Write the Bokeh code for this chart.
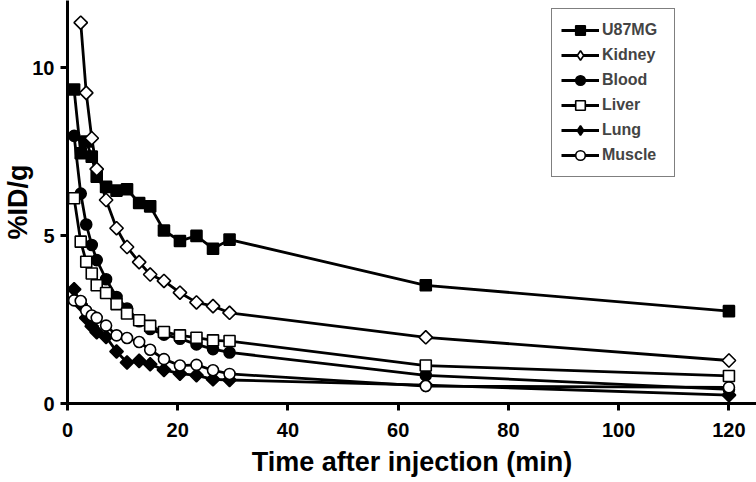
import math
from bokeh.plotting import figure
from bokeh.models import Range1d, Legend, LegendItem, FixedTicker
from bokeh.embed import file_html
from bokeh.resources import INLINE

# ---- data ----
times = [1.2, 2.4, 3.4, 4.4, 5.3, 7.0, 8.9, 10.8, 13.0, 15.0, 17.5, 20.4, 23.4, 26.4, 29.4, 65.0, 120.0]
kidney_times = [2.4, 3.4, 4.4, 5.3, 7.0, 8.9, 10.8, 13.0, 15.0, 17.5, 20.4, 23.4, 26.4, 29.4, 65.0, 120.0]
u87mg = [9.35, 7.45, 7.8, 7.35, 6.75, 6.45, 6.34, 6.38, 5.97, 5.87, 5.15, 4.84, 4.99, 4.61, 4.88, 3.52, 2.75]
kidney = [11.34, 9.25, 7.9, 6.98, 6.06, 5.22, 4.66, 4.21, 3.84, 3.65, 3.3, 3.01, 2.9, 2.7, 1.97, 1.28]
blood = [7.97, 6.25, 5.33, 4.72, 4.27, 3.7, 3.17, 2.83, 2.45, 2.22, 2.05, 1.93, 1.76, 1.62, 1.52, 0.84, 0.42]
liver = [6.11, 4.82, 4.22, 3.87, 3.52, 3.29, 2.96, 2.68, 2.48, 2.31, 2.13, 2.03, 1.96, 1.88, 1.86, 1.13, 0.82]
lung = [3.4, 2.95, 2.55, 2.3, 2.12, 1.98, 1.55, 1.22, 1.27, 1.17, 1.0, 0.89, 0.84, 0.72, 0.7, 0.55, 0.25]
muscle = [3.07, 3.05, 2.76, 2.62, 2.55, 2.32, 2.03, 1.95, 1.83, 1.6, 1.32, 1.13, 1.15, 0.99, 0.88, 0.52, 0.48]

x_ticks = [0, 20, 40, 60, 80, 100, 120]
y_ticks = [0, 5, 10]

FONT = "Liberation Sans"

p = figure(width=756, height=482, output_backend="svg", toolbar_location=None,
           x_range=Range1d(0, 125), y_range=Range1d(0, 12.0),
           min_border_left=66, min_border_right=0, min_border_top=0, min_border_bottom=79)
p.grid.visible = False
p.outline_line_color = None

for ax in (p.xaxis[0], p.yaxis[0]):
    ax.axis_line_width = 3
    ax.axis_line_color = "black"
    ax.major_tick_line_width = 3
    ax.major_tick_line_color = "black"
    ax.major_tick_out = 7
    ax.major_tick_in = 0
    ax.minor_tick_line_color = None
    ax.major_label_text_font = FONT
    ax.major_label_text_font_style = "bold"
    ax.major_label_text_font_size = "20px"
    ax.major_label_text_color = "black"
    ax.axis_label_text_font = FONT
    ax.axis_label_text_font_style = "bold"
    ax.axis_label_text_font_size = "27px"
    ax.axis_label_text_color = "black"

p.xaxis[0].ticker = FixedTicker(ticks=x_ticks)
p.yaxis[0].ticker = FixedTicker(ticks=y_ticks)
p.xaxis[0].axis_label = "Time after injection (min)"
p.yaxis[0].axis_label = "%ID/g"
p.xaxis[0].major_label_standoff = 12
p.xaxis[0].axis_label_standoff = 7
p.yaxis[0].major_label_standoff = 6
p.yaxis[0].axis_label_standoff = -4

LW = 2.8
series = [
    ("U87MG", times, u87mg, "square", "black"),
    ("Kidney", kidney_times, kidney, "diamond", "white"),
    ("Blood", times, blood, "circle", "black"),
    ("Liver", times, liver, "square", "white"),
    ("Lung", times, lung, "diamond", "black"),
    ("Muscle", times, muscle, "circle", "white"),
]

nan = float("nan")
items = []
for name, xs, ys, marker, fill in series:
    l = p.line(xs, ys, line_color="black", line_width=LW)
    if marker == "diamond":
        # rotated square in the plot (equal width and height like the reference)
        s = p.scatter(xs, ys, marker="square", angle=math.pi / 4, size=9.5, fill_color=fill,
                      line_color="black", line_width=1.6)
        # legend proxy glyph (never visible in the plot area)
        lg = p.scatter([nan], [nan], marker="diamond", fill_color=fill,
                       line_color="black", line_width=1.6)
        items.append(LegendItem(label=name, renderers=[l, lg]))
    else:
        s = p.scatter(xs, ys, marker=marker, size=11, fill_color=fill,
                      line_color="black", line_width=1.6)
        items.append(LegendItem(label=name, renderers=[l, s]))

legend = Legend(items=items, location=(484, 226))
legend.label_text_font = FONT
legend.label_text_font_style = "bold"
legend.label_text_font_size = "16px"
legend.label_standoff = 3
legend.label_width = 63
legend.glyph_width = 38
legend.glyph_height = 24
legend.label_height = 24
legend.spacing = 1
legend.padding = 9
legend.margin = 0
legend.border_line_color = "black"
legend.border_line_width = 1.5
legend.background_fill_alpha = 1
p.add_layout(legend, "center")

open("out.html", "w").write(file_html(p, INLINE))
